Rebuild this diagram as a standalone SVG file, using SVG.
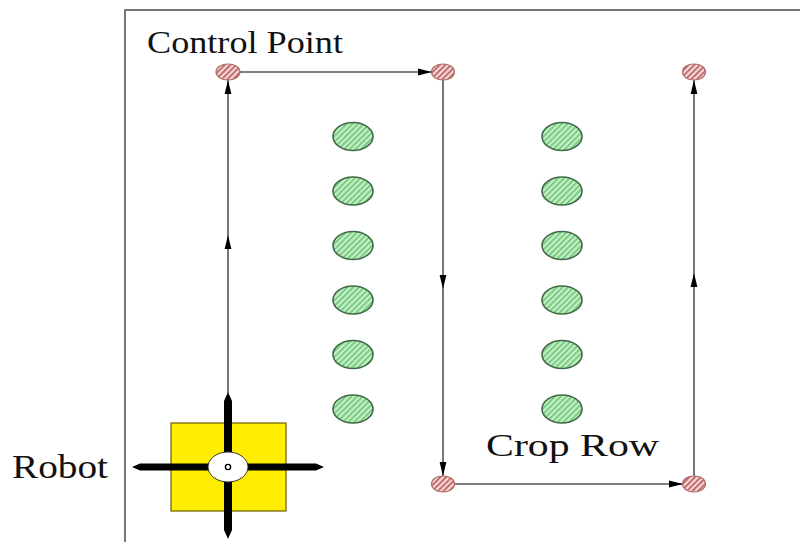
<svg xmlns="http://www.w3.org/2000/svg" width="800" height="542" viewBox="0 0 800 542">
<style>
.frame{stroke:#777;stroke-width:2;fill:none}
.lbl{fill:#111}
.cp{fill:url(#hatchR);stroke:#b06a6a;stroke-width:1.2}
.crop{fill:url(#hatchG);stroke:#3f6a45;stroke-width:1.6}
.path{stroke:#555;stroke-width:1.6;fill:none;marker-end:url(#arr)}
.bar{fill:#000}
</style>
<defs>
<pattern id="hatchG" width="4" height="4" patternUnits="userSpaceOnUse" patternTransform="rotate(45)">
<rect width="4" height="4" fill="#c4efc4"/>
<rect width="1.6" height="4" fill="#6cc47a"/>
</pattern>
<pattern id="hatchR" width="4" height="4" patternUnits="userSpaceOnUse" patternTransform="rotate(45)">
<rect width="4" height="4" fill="#f7d6d6"/>
<rect width="1.6" height="4" fill="#b45a5a"/>
</pattern>
<marker id="arr" markerWidth="14" markerHeight="8" refX="14" refY="4" orient="auto" markerUnits="userSpaceOnUse">
<path d="M0,0.6 L14,4 L0,7.4 Z" fill="#000"/>
</marker>
</defs>
<rect width="800" height="542" fill="#fff"/>
<path class="frame" d="M125,542 V10 H800"/>

<g id="connectors">
<line class="path" x1="228" y1="393" x2="228" y2="235"/>
<line class="path" x1="228" y1="235" x2="228" y2="80"/>
<line class="path" x1="240" y1="72" x2="432" y2="72"/>
<line class="path" x1="443" y1="80" x2="443" y2="289"/>
<line class="path" x1="443" y1="289" x2="443" y2="476"/>
<line class="path" x1="455" y1="484" x2="683" y2="484"/>
<line class="path" x1="694" y1="476" x2="694" y2="273"/>
<line class="path" x1="694" y1="273" x2="694" y2="80"/>
</g>

<g id="control-points">
<ellipse class="cp" cx="228" cy="72" rx="12" ry="8"/>
<ellipse class="cp" cx="443" cy="72" rx="11.5" ry="8"/>
<ellipse class="cp" cx="694" cy="72" rx="11.5" ry="8"/>
<ellipse class="cp" cx="443" cy="484" rx="11.5" ry="8"/>
<ellipse class="cp" cx="694" cy="484" rx="11.5" ry="8"/>
</g>

<g id="crop-row-1">
<ellipse class="crop" cx="353" cy="136.5" rx="20" ry="14"/>
<ellipse class="crop" cx="353" cy="191" rx="20" ry="14"/>
<ellipse class="crop" cx="353" cy="245.5" rx="20" ry="14"/>
<ellipse class="crop" cx="353" cy="300" rx="20" ry="14"/>
<ellipse class="crop" cx="353" cy="354.5" rx="20" ry="14"/>
<ellipse class="crop" cx="353" cy="409" rx="20" ry="14"/>
</g>
<g id="crop-row-2">
<ellipse class="crop" cx="562" cy="136.5" rx="20" ry="14"/>
<ellipse class="crop" cx="562" cy="191" rx="20" ry="14"/>
<ellipse class="crop" cx="562" cy="245.5" rx="20" ry="14"/>
<ellipse class="crop" cx="562" cy="300" rx="20" ry="14"/>
<ellipse class="crop" cx="562" cy="354.5" rx="20" ry="14"/>
<ellipse class="crop" cx="562" cy="409" rx="20" ry="14"/>
</g>

<g id="robot">
<rect x="171" y="423" width="115" height="88" fill="#ffee00" stroke="#6b5d00" stroke-width="1.2"/>
<polygon class="bar" points="224,401 228,392 232,401 232,530 228,539 224,530"/>
<polygon class="bar" points="140,463.5 132,467 140,470.5 316,470.5 324,467 316,463.5"/>
<ellipse cx="228" cy="467" rx="20" ry="15" fill="#fff" stroke="#333" stroke-width="1"/>
<circle cx="228" cy="467" r="2.6" fill="#fff" stroke="#000" stroke-width="1.4"/>
</g>

<g id="labels" font-family="'Liberation Serif', 'DejaVu Serif', 'Times New Roman', serif">
<text class="lbl" x="147" y="53" font-size="31" textLength="196" lengthAdjust="spacingAndGlyphs">Control Point</text>
<text class="lbl" x="486" y="456" font-size="32" textLength="173" lengthAdjust="spacingAndGlyphs">Crop Row</text>
<text class="lbl" x="12" y="478" font-size="34" textLength="96" lengthAdjust="spacingAndGlyphs">Robot</text>
</g>
</svg>
